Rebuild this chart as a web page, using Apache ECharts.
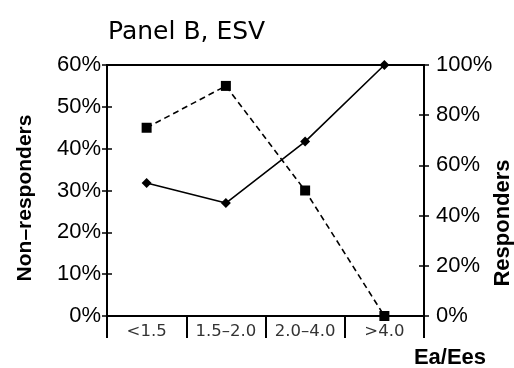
<!DOCTYPE html>
<html>
<head>
<meta charset="utf-8">
<script src="https://cdn.jsdelivr.net/npm/echarts@6/dist/echarts.min.js"></script>
<style>html,body{margin:0;padding:0;background:#fff}#c{width:514px;height:368px}</style>
</head>
<body>
<div id="c"></div>
<script>
const categories = ['<1.5', '1.5\u20132.0', '2.0\u20134.0', '>4.0'];
const nonResponders = [45, 55, 30, 0];
const responders = [53, 45, 69.5, 100];
const leftTicks = [0, 10, 20, 30, 40, 50, 60];
const rightTicks = [0, 20, 40, 60, 80, 100];

const chart = echarts.init(document.getElementById('c'), null, {renderer: 'canvas'});
const labelFont = {color: '#000', fontFamily: 'Liberation Sans, Arial', fontSize: 22};
const axisLine = {show: true, lineStyle: {color: '#000', width: 2}};
function yAx(pos, max, interval, labels, inside, margin) {
  return {
    type: 'value', position: pos, min: 0, max: max, interval: interval,
    axisLine: axisLine,
    axisTick: {show: true, inside: inside, length: 5, lineStyle: {color: '#000', width: 1.5}},
    axisLabel: labels ? Object.assign({show: true, margin: margin, formatter: '{value}%'}, labelFont) : {show: false},
    splitLine: {show: false}
  };
}
chart.setOption({
  animation: false,
  backgroundColor: '#fff',
  title: {
    text: 'Panel B, ESV', left: 103, top: 15,
    textStyle: {fontFamily: 'DejaVu Sans', fontSize: 25, fontWeight: 'normal', color: '#000'}
  },
  grid: {left: 107, right: 90, top: 65, bottom: 52, show: true, borderColor: '#000', borderWidth: 2, backgroundColor: 'transparent'},
  xAxis: {
    type: 'category', data: categories, boundaryGap: true,
    axisLine: axisLine,
    axisTick: {show: true, length: 22, lineStyle: {color: '#000', width: 2}},
    axisLabel: {color: '#333', fontFamily: 'DejaVu Sans', fontSize: 16.5, margin: 7}
  },
  yAxis: [
    yAx('left', 60, 10, true, false, 6),
    yAx('right', 100, 20, true, false, 12),
    yAx('left', 60, 10, false, true, 0),
    yAx('right', 100, 20, false, true, 0)
  ],
  series: [
    {
      name: 'Non-responders', type: 'line', yAxisIndex: 0, data: nonResponders,
      symbol: 'rect', symbolSize: 10,
      lineStyle: {color: '#000', width: 1.6, type: [6, 4]},
      itemStyle: {color: '#000'}
    },
    {
      name: 'Responders', type: 'line', yAxisIndex: 1, data: responders,
      symbol: 'diamond', symbolSize: 10,
      lineStyle: {color: '#000', width: 1.6, type: 'solid'},
      itemStyle: {color: '#000'}
    }
  ],
  graphic: [
    {type: 'text', x: 25, y: 198, rotation: Math.PI / 2,
      style: {text: 'Non\u2013responders', align: 'center', verticalAlign: 'middle', fill: '#000', font: 'bold 21px "Liberation Sans", Arial'}},
    {type: 'text', x: 503, y: 223, rotation: Math.PI / 2,
      style: {text: 'Responders', align: 'center', verticalAlign: 'middle', fill: '#000', font: 'bold 22px "Liberation Sans", Arial'}},
    {type: 'text', x: 450, y: 358,
      style: {text: 'Ea/Ees', align: 'center', verticalAlign: 'middle', fill: '#000', font: 'bold 22px "Liberation Sans", Arial'}}
  ]
});
</script>
</body>
</html>
